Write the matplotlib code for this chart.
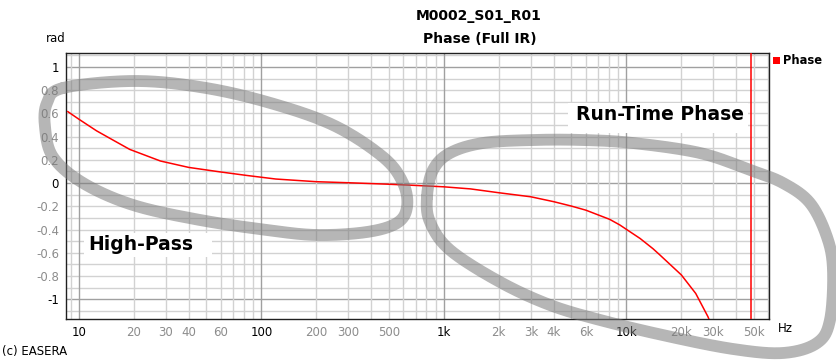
import numpy as np
import matplotlib
matplotlib.use("Agg")
import matplotlib.pyplot as plt
from matplotlib.lines import Line2D
from matplotlib.patches import Rectangle

# Phase response (full impulse response)
freq_hz = [8.7, 10, 12.5, 15.4, 19, 28, 40, 59, 83, 120, 200, 300, 485, 700,
           1000, 1400, 2000, 3000, 4000, 5000, 6000, 8100, 9200, 10000, 11900,
           14000, 15300, 20000, 24000, 28000, 28500]
phase_rad = [0.615, 0.55, 0.45, 0.37, 0.29, 0.19, 0.135, 0.097, 0.066, 0.035,
             0.012, 0.003, -0.009, -0.02, -0.032, -0.05, -0.083, -0.118, -0.16,
             -0.198, -0.233, -0.312, -0.36, -0.398, -0.477, -0.565, -0.62,
             -0.79, -0.95, -1.15, -1.18]
marker_freq_hz = 48000

x_tick_values = [10, 20, 30, 40, 60, 100, 200, 300, 500, 1000, 2000, 3000,
                 4000, 6000, 10000, 20000, 30000, 50000]
x_tick_labels = ["10", "20", "30", "40", "60", "100", "200", "300", "500",
                 "1k", "2k", "3k", "4k", "6k", "10k", "20k", "30k", "50k"]
y_tick_values = [1, 0.8, 0.6, 0.4, 0.2, 0, -0.2, -0.4, -0.6, -0.8, -1]
y_tick_labels = ["1", "0.8", "0.6", "0.4", "0.2", "0", "-0.2", "-0.4",
                 "-0.6", "-0.8", "-1"]

W, H = 837, 360
fig = plt.figure(figsize=(W / 100, H / 100), dpi=100)
fig.patch.set_facecolor("white")

L, T, R, B = 66, 53, 769, 319
ax = fig.add_axes([L / W, 1 - B / H, (R - L) / W, (B - T) / H])
ax.set_xscale("log")
ax.set_xlim(8.5, 60500)
ax.set_ylim(-1.17, 1.12)

light = "#d2d2d2"
dark = "#a0a0a0"
# horizontal grid every 0.1 rad
for k in range(-11, 12):
    v = k / 10
    ax.axhline(v, color=dark if k % 10 == 0 else light, lw=1.0, zorder=1)
# vertical grid at 1..9 x decade
for dec in [1, 10, 100, 1000, 10000]:
    for n in range(1, 10):
        f = n * dec
        if 8.5 <= f <= 60500:
            ax.axvline(f, color=dark if n == 1 else light, lw=1.0, zorder=1)

ax.plot(freq_hz, phase_rad, color="#ff0000", lw=1.1, zorder=3)
ax.axvline(marker_freq_hz, color="#ff0000", lw=1.1, zorder=3)

for s in ax.spines.values():
    s.set_color("#202020")
    s.set_linewidth(1.0)

ax.set_xticks(x_tick_values)
ax.set_xticklabels(x_tick_labels)
ax.minorticks_off()
ax.set_yticks(y_tick_values)
ax.set_yticklabels(y_tick_labels)
ax.tick_params(axis="both", length=0, labelsize=8.5)
ax.tick_params(axis="x", pad=5)
ax.tick_params(axis="y", pad=5)
for lab, v in zip(ax.get_xticklabels(), x_tick_values):
    lab.set_color("black" if np.log10(v) % 1 == 0 else "#8c8c8c")
for lab, v in zip(ax.get_yticklabels(), y_tick_values):
    lab.set_color("black" if float(v).is_integer() else "#8c8c8c")


def fx(x):
    return x / W


def fy(y):
    return 1 - y / H


fig.text(fx(479), fy(16), "M0002_S01_R01", ha="center", va="center",
         fontsize=10, fontweight="bold")
fig.text(fx(480), fy(39), "Phase (Full IR)", ha="center", va="center",
         fontsize=10, fontweight="bold")
fig.text(fx(46), fy(38), "rad", ha="left", va="center", fontsize=8.5)
fig.text(fx(778), fy(328), "Hz", ha="left", va="center", fontsize=8.5)
fig.text(fx(2), fy(352), "(c) EASERA", ha="left", va="center", fontsize=8.5)

# legend
fig.add_artist(Rectangle((fx(773), fy(64)), 7 / W, 7 / H, transform=fig.transFigure,
                         facecolor="#ff0000", edgecolor="none"))
fig.text(fx(783), fy(61), "Phase", ha="left", va="center", fontsize=8.3,
         fontweight="bold")

# callout labels on white boxes
for (x0, y0, x1, y1) in [(84, 233, 212, 257), (568, 103, 748, 133)]:
    fig.add_artist(Rectangle((fx(x0), fy(y1)), (x1 - x0) / W, (y1 - y0) / H,
                             transform=fig.transFigure, facecolor="white",
                             edgecolor="none", zorder=2.5))
fig.text(fx(141), fy(245), "High-Pass", ha="center", va="center", fontsize=13.5,
         fontweight="bold", zorder=3)
fig.text(fx(660), fy(114), "Run-Time Phase", ha="center", va="center",
         fontsize=13.5, fontweight="bold", zorder=3)


def closed_spline(pts, n=40):
    p = np.asarray(pts, float)
    m = len(p)
    out = []
    for i in range(m):
        p0, p1, p2, p3 = p[(i - 1) % m], p[i], p[(i + 1) % m], p[(i + 2) % m]
        t = np.linspace(0, 1, n, endpoint=False)[:, None]
        out.append(0.5 * ((2 * p1) + (-p0 + p2) * t
                          + (2 * p0 - 5 * p1 + 4 * p2 - p3) * t ** 2
                          + (-p0 + 3 * p1 - 3 * p2 + p3) * t ** 3))
    out = np.vstack(out)
    return np.vstack([out, out[:1]])


# freehand loops around the two regions
loop_high_pass = [(63, 88), (133, 81), (200, 87), (267, 102), (333, 125),
                  (383, 157), (403, 183), (407, 207), (397, 223), (367, 232),
                  (317, 235), (267, 230), (200, 220), (133, 205), (83, 183),
                  (53, 157), (45, 127), (47, 103)]
loop_run_time = [(427, 197), (433, 170), (450, 153), (483, 143), (533, 140),
                 (583, 140), (633, 143), (700, 153), (750, 170), (783, 183),
                 (810, 203), (827, 237), (833, 270), (830, 320), (817, 343),
                 (783, 353), (733, 349), (667, 336), (600, 320), (550, 305),
                 (500, 282), (450, 250), (430, 222)]
for loop in (loop_high_pass, loop_run_time):
    c = closed_spline(loop)
    fig.add_artist(Line2D(fx(c[:, 0]), fy(c[:, 1]), transform=fig.transFigure,
                          color="#7a7a7a", alpha=0.55, lw=8.5,
                          solid_capstyle="round", solid_joinstyle="round",
                          zorder=4))

fig.savefig("out.png", dpi=100, facecolor="white")
